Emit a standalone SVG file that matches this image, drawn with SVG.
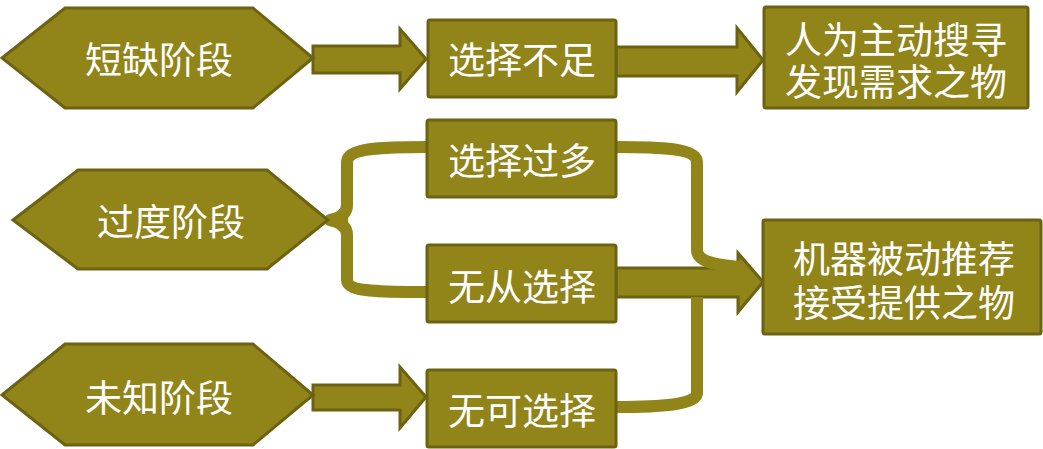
<svg xmlns="http://www.w3.org/2000/svg" width="1043" height="449" viewBox="0 0 1043 449">
<style>
.shape{fill:#918419;stroke:#6c6312;stroke-width:3;stroke-linejoin:miter}
.brace{fill:none;stroke:#918419;stroke-width:12;stroke-linecap:butt;stroke-linejoin:round}
.tip{fill:#918419}
text{font-family:"Noto Sans CJK SC","Noto Sans",sans-serif;font-size:37px;fill:#ffffff;text-anchor:middle;dominant-baseline:central}
</style>
<rect width="1043" height="449" fill="#ffffff"/>
<g id="connectors">
<polygon class="shape" points="313,46 400,46 400,29 426,59 400,89 400,73 313,73"/>
<polygon class="shape" points="616,47 737,47 737,28 763,60 737,92 737,76 616,76"/>
<polygon class="shape" points="313,385 400,385 400,367 426,397 400,428 400,410 313,410"/>
<polygon class="shape" points="616,268 738,268 738,253 763,282 738,312 738,297 616,297"/>
<path class="brace" d="M427,147 C380,147 347,148 347,162 L347,205 C347,214 340,218 330,220 C340,222 347,226 347,235 L347,280 C347,292 380,292 427,292"/>
<polygon class="tip" points="327,220 348,206 348,234"/>
<path class="brace" d="M616,147 C660,147 697,148 697,162 L697,250 C697,262 715,265 741,267"/>
<path class="brace" d="M697,297 L697,393 C697,405 660,407 616,407"/>
</g>
<g id="n-shortage">
<polygon class="shape" points="2,58 65,8 253,8 313,58 253,108 65,108"/>
<text x="159" y="58">短缺阶段</text>
</g>
<g id="n-transition">
<polygon class="shape" points="13,220 78,170 267,170 328,220 267,269 78,269"/>
<text x="171" y="220">过度阶段</text>
</g>
<g id="n-unknown">
<polygon class="shape" points="2,395 65,344 253,344 313,395 253,445 65,445"/>
<text x="159" y="396">未知阶段</text>
</g>
<g id="n-insufficient">
<rect class="shape" x="428" y="20" width="188" height="77" rx="2"/>
<text x="522" y="58">选择不足</text>
</g>
<g id="n-toomany">
<rect class="shape" x="427" y="120" width="189" height="77" rx="2"/>
<text x="522" y="159">选择过多</text>
</g>
<g id="n-nochoice">
<rect class="shape" x="427" y="245" width="189" height="77" rx="2"/>
<text x="522" y="285">无从选择</text>
</g>
<g id="n-nooption">
<rect class="shape" x="427" y="370" width="189" height="77" rx="2"/>
<text x="522" y="409">无可选择</text>
</g>
<g id="n-human">
<rect class="shape" x="764" y="7" width="264" height="101" rx="2"/>
<text x="896" y="38">人为主动搜寻</text>
<text x="896" y="80">发现需求之物</text>
</g>
<g id="n-machine">
<rect class="shape" x="763" y="220" width="278" height="114" rx="2"/>
<text x="904" y="257">机器被动推荐</text>
<text x="904" y="301">接受提供之物</text>
</g>
</svg>
